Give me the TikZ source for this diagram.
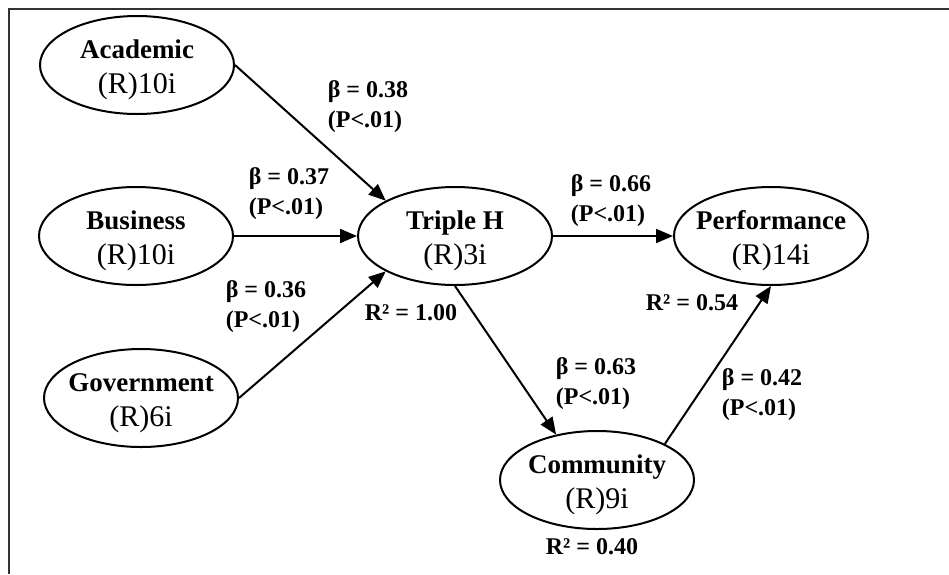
\documentclass[tikz,border=0pt]{standalone}
\usepackage{fontspec}
\setmainfont{Liberation Serif}
\usetikzlibrary{shapes.geometric, arrows.meta, positioning}
\tikzstyle{latent} = [ellipse, minimum width=194pt, minimum height=98pt, inner sep=0pt, draw=black, line width=2pt, fill=white]
\tikzstyle{lvtext} = [align=center, inner sep=0pt, yshift=-5pt, font=\fontsize{30}{35}\selectfont]
\tikzstyle{coef} = [align=left, inner sep=0pt, font=\bfseries\fontsize{24}{30}\selectfont]
\tikzstyle{arrow} = [line width=2pt,->,>={Triangle[length=17pt,width=14pt]}]
\newcommand{\lvname}[2]{{\fontsize{27}{35}\selectfont\bfseries #1}\\#2}

\begin{document}
\begin{tikzpicture}[x=1pt, y=-1pt]
\useasboundingbox (0,0) rectangle (949,574);
\draw[black!80, line width=1.3pt] (949,9) -- (9,9) -- (9,574);

% latent variables
\node (acad) [latent, label={[lvtext]center:\lvname{Academic}{(R)10i}}] at (137,65) {};
\node (bus) [latent, label={[lvtext]center:\lvname{Business}{(R)10i}}] at (136,236) {};
\node (gov) [latent, label={[lvtext]center:\lvname{Government}{(R)6i}}] at (141,398) {};
\node (triple) [latent, label={[lvtext]center:\lvname{Triple H}{(R)3i}}] at (455,236) {};
\node (perf) [latent, label={[lvtext]center:\lvname{Performance}{(R)14i}}] at (771,236) {};
\node (comm) [latent, label={[lvtext]center:\lvname{Community}{(R)9i}}] at (597,480) {};

% paths
\draw[arrow] (acad.east) -- (triple.north west);
\draw[arrow] (bus.east) -- (triple.west);
\draw[arrow] (gov.east) -- (triple.south west);
\draw[arrow] (triple.east) -- (perf.west);
\draw[arrow] (triple.south) -- (comm.132);
\draw[arrow] (comm.28) -- (perf.south);

% coefficients
\node (c38) [coef] at (368,107) {β = 0.38\\(P<.01)};
\node (c37) [coef] at (289,194) {β = 0.37\\(P<.01)};
\node (c36) [coef] at (266,307) {β = 0.36\\(P<.01)};
\node (c66) [coef] at (611,201) {β = 0.66\\(P<.01)};
\node (c63) [coef] at (596,384) {β = 0.63\\(P<.01)};
\node (c42) [coef] at (762,395) {β = 0.42\\(P<.01)};
\node (rtri) [coef] at (411,313) {R² = 1.00};
\node (rperf) [coef] at (692,303) {R² = 0.54};
\node (rcomm) [coef] at (592,547) {R² = 0.40};
\end{tikzpicture}
\end{document}
